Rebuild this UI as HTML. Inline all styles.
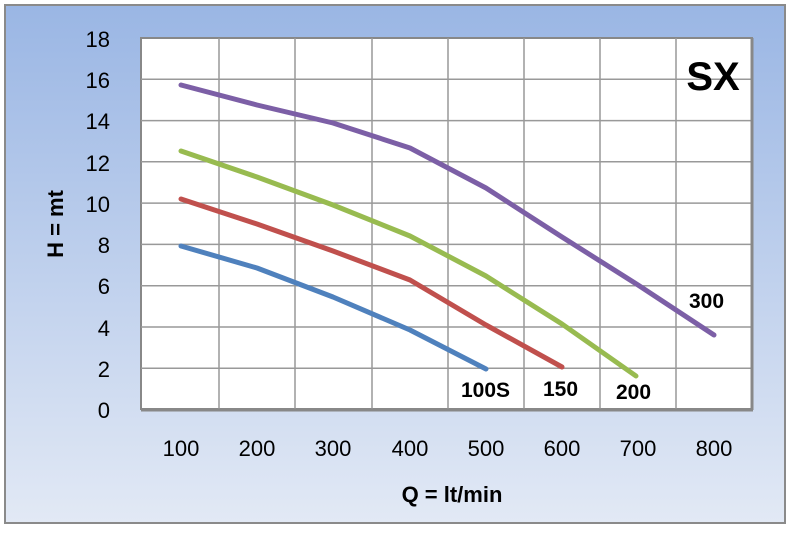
<!DOCTYPE html>
<html><head><style>body{margin:0}</style></head><body>
<svg width="791" height="529" xmlns="http://www.w3.org/2000/svg" font-family="Liberation Sans, sans-serif">
<defs><linearGradient id="g" x1="0" y1="0" x2="0" y2="1"><stop offset="0" stop-color="#9ab6e4"/><stop offset="1" stop-color="#e2e9f5"/></linearGradient></defs>
<rect x="0" y="0" width="791" height="529" fill="#fff"/>
<rect x="5" y="5" width="780" height="518" fill="url(#g)" stroke="#8a8a8a" stroke-width="2"/>
<rect x="141" y="38" width="611" height="371" fill="#fff" stroke="#888" stroke-width="2"/>
<g stroke="#999" stroke-width="1.5">
<line x1="141" y1="79.3" x2="752" y2="79.3"/><line x1="141" y1="120.6" x2="752" y2="120.6"/><line x1="141" y1="161.8" x2="752" y2="161.8"/><line x1="141" y1="203.1" x2="752" y2="203.1"/><line x1="141" y1="244.4" x2="752" y2="244.4"/><line x1="141" y1="285.7" x2="752" y2="285.7"/><line x1="141" y1="327" x2="752" y2="327"/><line x1="141" y1="368.2" x2="752" y2="368.2"/>
<line x1="219" y1="38" x2="219" y2="409"/><line x1="295" y1="38" x2="295" y2="409"/><line x1="372" y1="38" x2="372" y2="409"/><line x1="448" y1="38" x2="448" y2="409"/><line x1="524" y1="38" x2="524" y2="409"/><line x1="600" y1="38" x2="600" y2="409"/><line x1="676" y1="38" x2="676" y2="409"/>
</g>
<line x1="752" y1="38" x2="752" y2="410" stroke="#888" stroke-width="3"/>
<line x1="141" y1="410" x2="753" y2="410" stroke="#888" stroke-width="3"/>
<g fill="none" stroke-width="5" stroke-linecap="round" stroke-linejoin="round">
<polyline stroke="#7c5fa6" points="181,85 257,105 333,123 410,148 486,188 562,237 638,285 714,335"/>
<polyline stroke="#98bb50" points="181,151 257,177 333,205 410,236 486,276 562,324 636,376"/>
<polyline stroke="#c0504d" points="181,199 257,224 333,251 410,280 486,325 562,367"/>
<polyline stroke="#4f81bd" points="181,246 257,268 333,297 410,330 486,369"/>
</g>
<g font-size="22" fill="#000" text-anchor="end">
<text x="110" y="418">0</text><text x="110" y="377">2</text><text x="110" y="336">4</text><text x="110" y="294">6</text><text x="110" y="253">8</text><text x="110" y="212">10</text><text x="110" y="171">12</text><text x="110" y="129">14</text><text x="110" y="88">16</text><text x="110" y="47">18</text>
</g>
<g font-size="22" fill="#000" text-anchor="middle">
<text x="181" y="456">100</text><text x="257" y="456">200</text><text x="333" y="456">300</text><text x="410" y="456">400</text><text x="486" y="456">500</text><text x="562" y="456">600</text><text x="638" y="456">700</text><text x="714" y="456">800</text>
</g>
<text x="452" y="502" font-size="22" font-weight="bold" text-anchor="middle">Q = lt/min</text>
<text transform="translate(63,224) rotate(-90)" font-size="22" font-weight="bold" text-anchor="middle">H = mt</text>
<text x="713" y="90" font-size="40" font-weight="bold" text-anchor="middle">SX</text>
<g font-size="21" font-weight="bold">
<text x="461" y="397">100S</text><text x="543" y="396">150</text><text x="616" y="399">200</text><text x="689" y="308">300</text>
</g>
</svg>
</body></html>
